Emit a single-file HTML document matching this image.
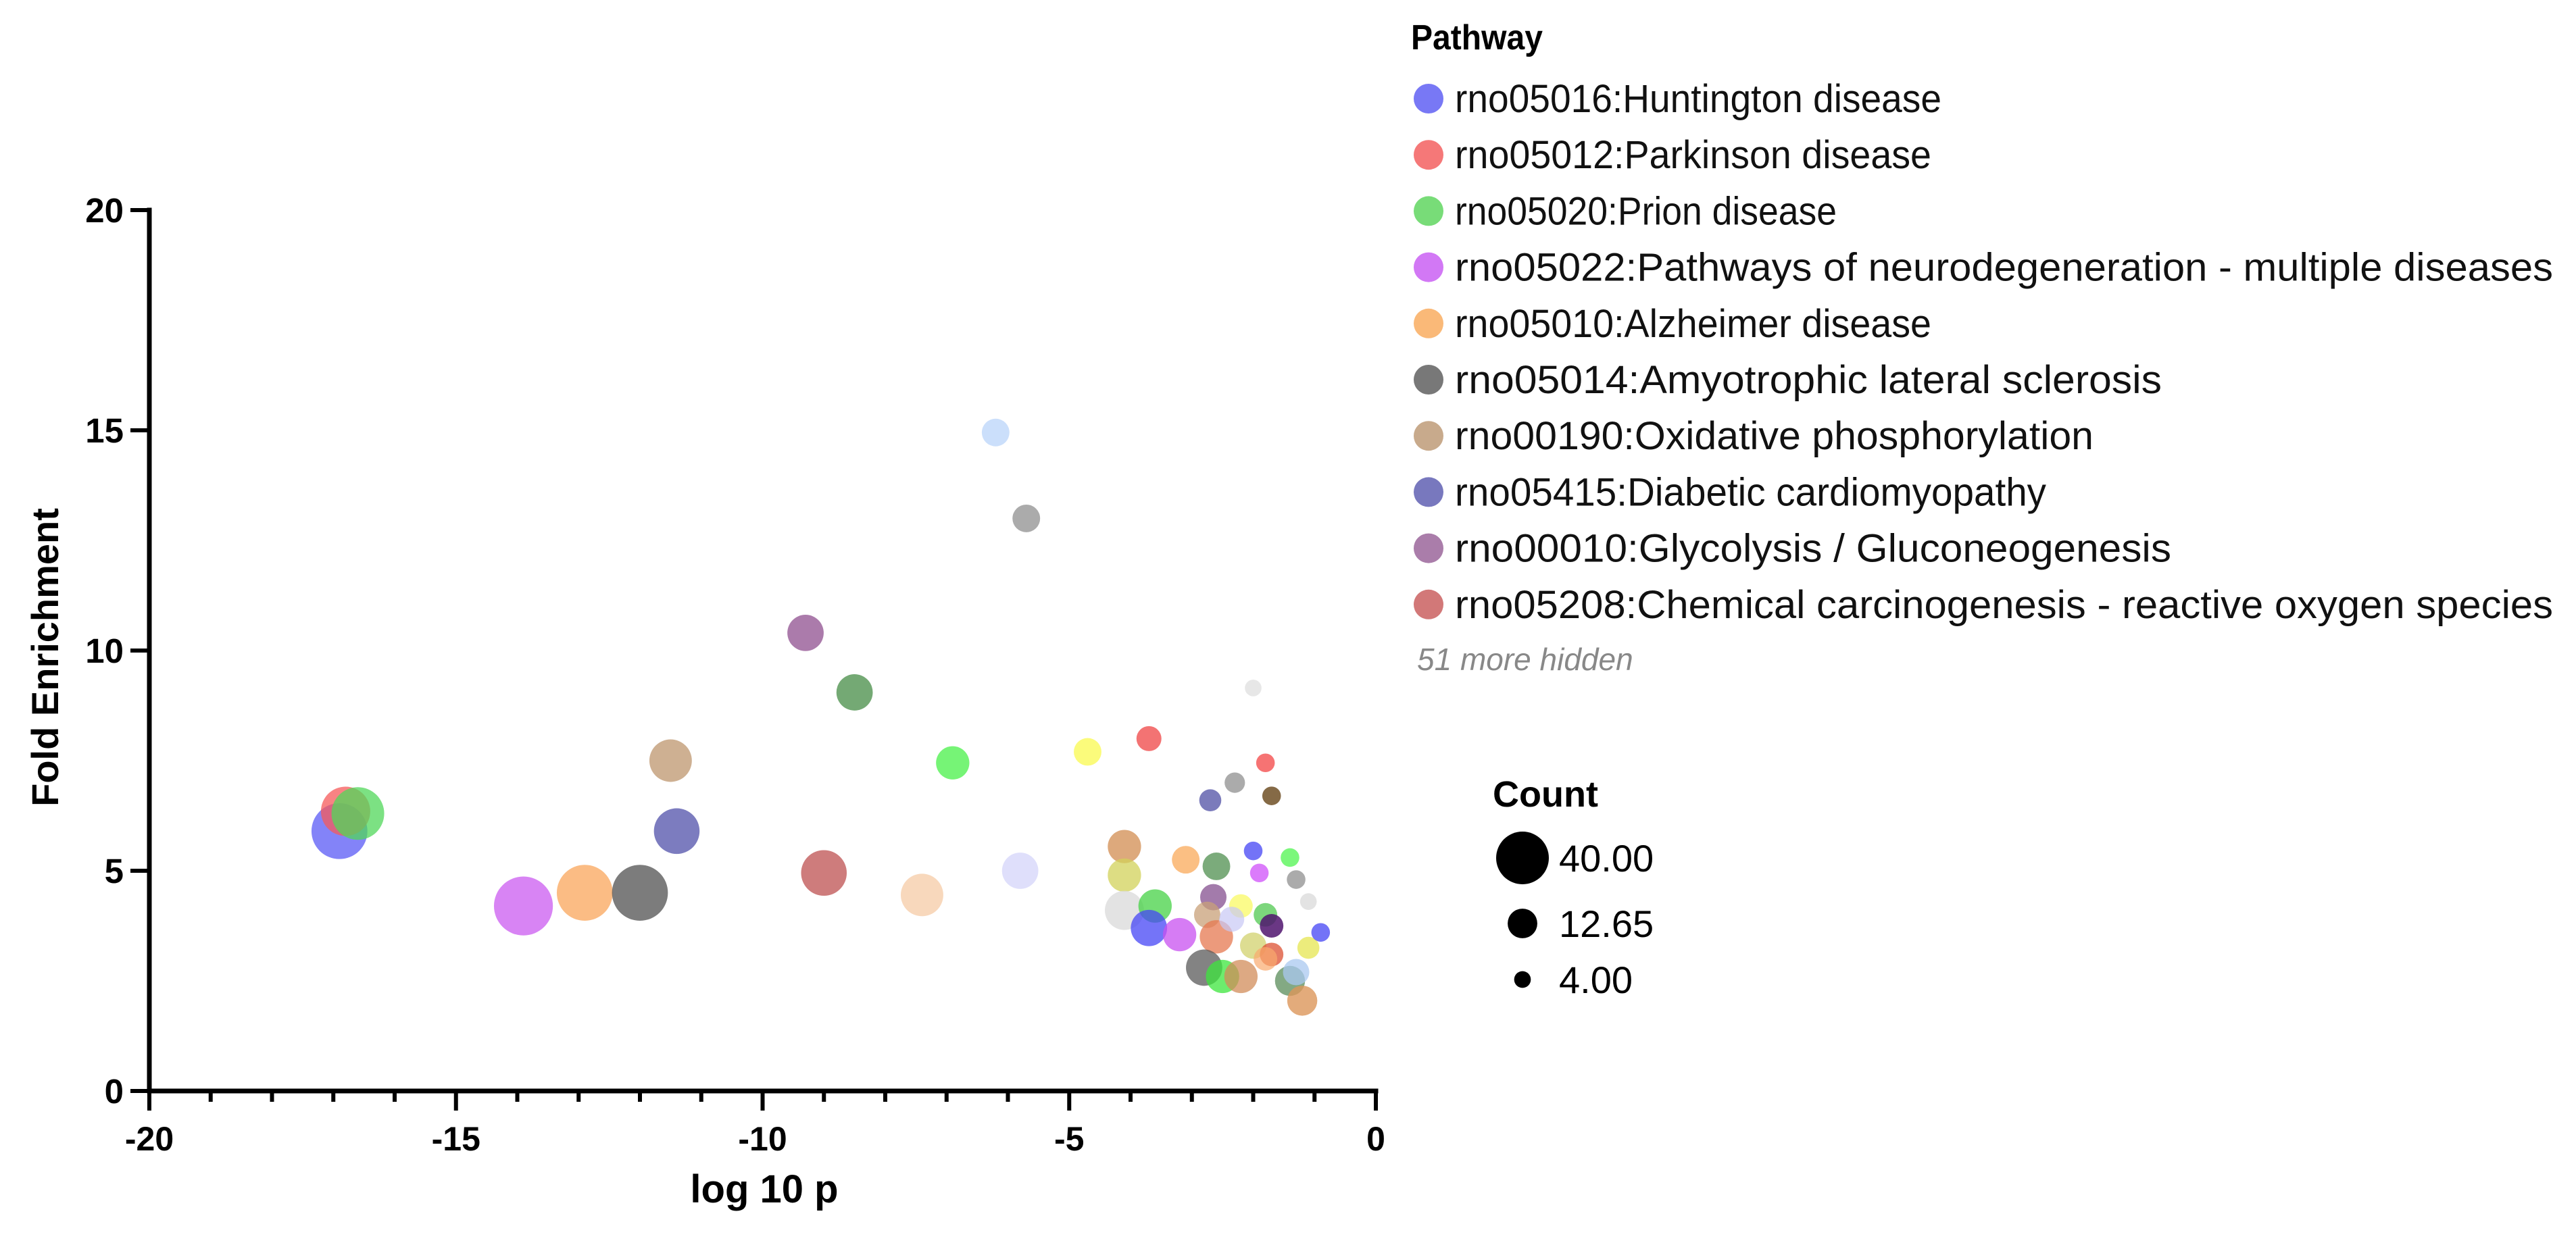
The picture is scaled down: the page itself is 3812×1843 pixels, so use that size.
<!DOCTYPE html>
<html><head><meta charset="utf-8"><style>
html,body{margin:0;padding:0;background:#fff;}
svg{display:block;font-family:"Liberation Sans",Arial,sans-serif;}
</style></head><body>
<svg id="chart" width="3812" height="1843" viewBox="0 0 3812 1843" xmlns="http://www.w3.org/2000/svg">
<g id="points"></g>
<g id="axes"></g>
<text x="0" y="0" transform="translate(86,973) rotate(-90)" text-anchor="middle" font-weight="bold" font-size="56">Fold Enrichment</text>
<text x="1131" y="1780" text-anchor="middle" font-weight="bold" font-size="58">log 10 p</text>
<g id="legend"></g>
<g id="sizelegend"></g>
</svg>
<script>
const xVals=[-16.9,-16.8,-16.6,-13.9,-12.9,-12.0,-11.5,-11.4,-9.3,-9.0,-8.5,-7.4,-6.9,-6.2,-5.7,-5.8,-4.7,-3.7,-4.1,-4.1,-4.1,-3.6,-3.7,-3.2,-3.1,-2.6,-2.65,-2.75,-2.6,-2.8,-2.5,-2.2,-2.2,-2.0,-1.8,-1.7,-1.7,-1.8,-1.4,-1.3,-1.2,-1.1,-0.9,-1.3,-1.1,-1.9,-2.0,-1.4,-2.7,-2.3,-1.7,-1.8,-2.0,-2.35];
const yVals=[5.9,6.35,6.3,4.2,4.5,4.5,7.5,5.9,10.4,4.95,9.05,4.45,7.45,14.95,13.0,5.0,7.7,8.0,5.55,4.9,4.1,4.2,3.7,3.55,5.25,5.1,4.4,4.0,3.5,2.8,2.6,2.6,4.2,3.3,4.0,3.75,3.1,3.0,2.5,2.7,2.05,3.25,3.6,4.8,4.3,4.95,5.45,5.3,6.6,7.0,6.7,7.45,9.15,3.9];
const counts=[45,35,40,50,45,45,26,30,19,30,19,26,16,11,11,19,11,9,16,16,22,16,19,16,11,11,10,10,16,19,16,16,8,10,8,8,8,8,13,10,13,7,5,5,4,5,5,5,7,6,5,5,4,9];
const colors=["rgba(90,90,245,0.75)","rgba(245,90,90,0.75)","rgba(80,215,90,0.75)","rgba(200,80,240,0.7)","rgba(250,160,80,0.7)","rgba(80,80,80,0.75)","rgba(190,150,110,0.75)","rgba(80,80,170,0.75)","rgba(150,90,150,0.8)","rgba(190,80,80,0.75)","rgba(70,140,70,0.75)","rgba(245,200,160,0.7)","rgba(60,240,60,0.7)","rgba(190,215,250,0.8)","rgba(150,150,150,0.8)","rgba(215,215,250,0.8)","rgba(250,250,90,0.8)","rgba(240,80,80,0.8)","rgba(210,140,80,0.75)","rgba(210,210,90,0.75)","rgba(220,220,220,0.8)","rgba(70,210,70,0.75)","rgba(70,70,245,0.75)","rgba(200,80,240,0.75)","rgba(250,170,90,0.75)","rgba(90,150,90,0.8)","rgba(140,90,150,0.8)","rgba(200,160,120,0.75)","rgba(230,120,80,0.75)","rgba(90,90,90,0.75)","rgba(60,230,60,0.75)","rgba(210,140,90,0.75)","rgba(250,250,100,0.75)","rgba(210,210,110,0.75)","rgba(80,200,80,0.75)","rgba(80,20,110,0.85)","rgba(220,80,50,0.75)","rgba(250,170,110,0.7)","rgba(90,140,90,0.75)","rgba(170,200,240,0.75)","rgba(220,150,90,0.8)","rgba(230,230,80,0.75)","rgba(80,80,245,0.8)","rgba(150,150,150,0.8)","rgba(220,220,220,0.8)","rgba(210,90,250,0.8)","rgba(80,80,245,0.8)","rgba(90,245,90,0.8)","rgba(90,90,170,0.8)","rgba(150,150,150,0.8)","rgba(120,90,50,0.9)","rgba(245,90,90,0.85)","rgba(225,225,225,0.8)","rgba(200,200,245,0.7)"];
const xTicks=[-20,-15,-10,-5,0];
const yTicks=[0,5,10,15,20];
const legendNames=["rno05016:Huntington disease","rno05012:Parkinson disease","rno05020:Prion disease","rno05022:Pathways of neurodegeneration - multiple diseases","rno05010:Alzheimer disease","rno05014:Amyotrophic lateral sclerosis","rno00190:Oxidative phosphorylation","rno05415:Diabetic cardiomyopathy","rno00010:Glycolysis / Gluconeogenesis","rno05208:Chemical carcinogenesis - reactive oxygen species"];
const legendColors=["#7878f5","#f57878","#78dc78","#d278f5","#fab978","#787878","#c8aa8c","#7878be","#aa7daa","#d27878"];
const sizeValues=[40,12.65,4];
const sizeLabels=["40.00","12.65","4.00"];

const NS="http://www.w3.org/2000/svg";
const X0=221,X1=2036,Y0=1615,Y1=311;
function sx(v){return X0+(v+20)/20*(X1-X0);}
function sy(v){return Y0-v/20*(Y0-Y1);}
function rad(c){return 39*Math.sqrt(c/40);}
function mk(tag,attrs,parent){const e=document.createElementNS(NS,tag);for(const k in attrs)e.setAttribute(k,attrs[k]);parent.appendChild(e);return e;}

const pg=document.getElementById('points');
for(let i=0;i<xVals.length;i++){
  const c=mk('circle',{cx:sx(xVals[i]),cy:sy(yVals[i]),r:rad(counts[i]),fill:colors[i]},pg);
  
  
}
const ax=document.getElementById('axes');
const xl=mk('line',{x1:X0,y1:Y0,x2:X1+3.5,y2:Y0,stroke:'#000','stroke-width':7},ax);


const yl=mk('line',{x1:X0,y1:Y0+3.5,x2:X0,y2:Y1-3.5,stroke:'#000','stroke-width':7},ax);


for(let v=-20;v<=0;v++){
  const major=(v%5===0);
  const t=mk('line',{x1:sx(v),y1:Y0,x2:sx(v),y2:Y0+(major?29:16),stroke:'#000','stroke-width':6},ax);
  
  
}
xTicks.forEach(v=>{
  const t=mk('text',{x:sx(v),y:1703,'text-anchor':'middle','font-weight':'bold','font-size':50},ax);
  t.textContent=String(v);
  
  
});
yTicks.forEach(v=>{
  const l=mk('line',{x1:X0-28,y1:sy(v),x2:X0,y2:sy(v),stroke:'#000','stroke-width':6},ax);
  
  
  const t=mk('text',{x:183,y:sy(v)+18,'text-anchor':'end','font-weight':'bold','font-size':51},ax);
  t.textContent=String(v);
  
  
});
const lg=document.getElementById('legend');
const title=mk('text',{x:2088,y:73,'font-weight':'bold','font-size':52,textLength:195,lengthAdjust:'spacingAndGlyphs'},lg);
title.textContent='Pathway';


const entryWidths=[720,705,565,1625,705,1046,945,875,1060,1625];
legendNames.forEach((n,i)=>{
  const cy=146+i*83.2;
  const m=mk('circle',{cx:2114,cy:cy,r:22,fill:legendColors[i]},lg);
  
  
  const t=mk('text',{x:2153,y:cy+20,'font-size':58,fill:'#111',textLength:entryWidths[i],lengthAdjust:'spacingAndGlyphs'},lg);
  t.textContent=n;
  
  
});
const more=mk('text',{x:2097,y:992,'font-size':46,'font-style':'italic',fill:'#888'},lg);
more.textContent='51 more hidden';


const sg=document.getElementById('sizelegend');
const ct=mk('text',{x:2209,y:1194,'font-weight':'bold','font-size':54},sg);
ct.textContent='Count';


const sYs=[1270,1367,1450];
sizeValues.forEach((v,i)=>{
  const c=mk('circle',{cx:2253,cy:sYs[i],r:rad(v),fill:'#000'},sg);
  
  
  const t=mk('text',{x:2307,y:sYs[i]+20,'font-size':56},sg);
  t.textContent=sizeLabels[i];
  
  
});
</script>
</body></html>
